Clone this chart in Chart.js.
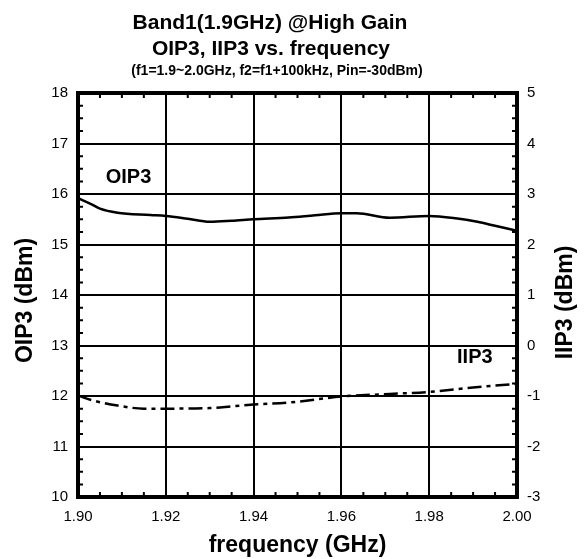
<!DOCTYPE html>
<html><head><meta charset="utf-8">
<script src="https://cdn.jsdelivr.net/npm/chart.js@4/dist/chart.umd.min.js"></script>
<style>html,body{margin:0;padding:0;background:#fff}#wrap{width:585px;height:559px;position:relative}</style>
</head><body><div id="wrap"><canvas id="c"></canvas></div>
<script>
const titleLines = ['Band1(1.9GHz) @High Gain', 'OIP3, IIP3 vs. frequency', '(f1=1.9~2.0GHz, f2=f1+100kHz, Pin=-30dBm)'];
const xTickLabels = ['1.90', '1.92', '1.94', '1.96', '1.98', '2.00'];
const leftTickLabels = ['10', '11', '12', '13', '14', '15', '16', '17', '18'];
const rightTickLabels = ['-3', '-2', '-1', '0', '1', '2', '3', '4', '5'];
const freqOIP3 = [1.900, 1.903, 1.905, 1.909, 1.9165, 1.920, 1.925, 1.930, 1.935, 1.940, 1.948, 1.954, 1.960, 1.9635, 1.971, 1.980, 1.986, 1.991, 1.995, 2.000];
const oip3 =     [15.92, 15.80, 15.71, 15.63, 15.585, 15.565, 15.51, 15.45, 15.47, 15.50, 15.535, 15.58, 15.62, 15.62, 15.53, 15.565, 15.52, 15.45, 15.37, 15.27];
const freqIIP3 = [1.900, 1.903, 1.909, 1.915, 1.922, 1.930, 1.9355, 1.940, 1.948, 1.960, 1.971, 1.980, 1.990, 2.000];
const iip3 =     [-0.99, -1.08, -1.19, -1.25, -1.25, -1.24, -1.20, -1.17, -1.13, -1.01, -0.96, -0.92, -0.83, -0.76];
const seriesNames = ['OIP3', 'IIP3'];
const axisTitles = ['frequency (GHz)', 'OIP3 (dBm)', 'IIP3 (dBm)'];

const FONT = "'Liberation Sans', Arial, sans-serif";

const bgPlugin = {
  id: 'bg',
  beforeDraw(chart) {
    const ctx = chart.ctx;
    ctx.save(); ctx.fillStyle = '#fff'; ctx.fillRect(0, 0, chart.width, chart.height); ctx.restore();
  }
};

const titlePlugin = {
  id: 'titles',
  afterDraw(chart) {
    const ctx = chart.ctx;
    ctx.save();
    ctx.fillStyle = '#000';
    ctx.textAlign = 'center';
    ctx.textBaseline = 'alphabetic';
    ctx.font = 'bold 21px ' + FONT;
    ctx.fillText(titleLines[0], 270, 29);
    ctx.fillText(titleLines[1], 271, 55);
    ctx.font = 'bold 14px ' + FONT;
    ctx.fillText(titleLines[2], 277, 75);
    // vertical axis titles, both reading bottom-to-top
    ctx.font = 'bold 23px ' + FONT;
    ctx.textBaseline = 'middle';
    ctx.save();
    ctx.translate(25.5, 300.5);
    ctx.rotate(-Math.PI / 2);
    ctx.fillText(axisTitles[1], 0, 0);
    ctx.restore();
    ctx.save();
    ctx.translate(565.5, 302.5);
    ctx.rotate(-Math.PI / 2);
    ctx.fillText(axisTitles[2], 0, 0);
    ctx.restore();
    ctx.restore();
  }
};

const framePlugin = {
  id: 'frame',
  afterDatasetsDraw(chart) {
    const {ctx, chartArea: {left, right, top, bottom}, scales: {x, y}} = chart;
    ctx.save();
    ctx.strokeStyle = '#000';
    ctx.lineWidth = 2;
    ctx.beginPath();
    for (let i = 0; i <= 32; i++) {
      if (i % 4 === 0) continue;
      const py = y.getPixelForValue(y.min + i * 0.25);
      ctx.moveTo(left, py); ctx.lineTo(left + 5, py);
      ctx.moveTo(right, py); ctx.lineTo(right - 5, py);
    }
    for (let i = 0; i <= 20; i++) {
      if (i % 4 === 0) continue;
      const px = x.getPixelForValue(x.min + i * 0.005);
      ctx.moveTo(px, bottom); ctx.lineTo(px, bottom - 5);
      ctx.moveTo(px, top); ctx.lineTo(px, top + 5);
    }
    ctx.stroke();
    ctx.lineWidth = 4;
    ctx.strokeRect(left, top, right - left, bottom - top);
    // series labels
    ctx.fillStyle = '#000';
    ctx.font = 'bold 20px ' + FONT;
    ctx.textAlign = 'center';
    ctx.textBaseline = 'middle';
    ctx.fillText(seriesNames[0], x.getPixelForValue(1.9115), y.getPixelForValue(16.32));
    const y2 = chart.scales.y2;
    ctx.fillText(seriesNames[1], x.getPixelForValue(1.9904), y2.getPixelForValue(-0.245));
    ctx.restore();
  }
};

const oipData = freqOIP3.map((f, i) => ({x: f, y: oip3[i]}));
const iipData = freqIIP3.map((f, i) => ({x: f, y: iip3[i]}));

new Chart(document.getElementById('c'), {
  type: 'line',
  data: {
    datasets: [
      {label: seriesNames[0], data: oipData, yAxisID: 'y', borderColor: '#000', borderWidth: 2.5,
       pointRadius: 0, cubicInterpolationMode: 'monotone', fill: false},
      {label: seriesNames[1], data: iipData, yAxisID: 'y2', borderColor: '#000', borderWidth: 2.5,
       borderDash: [14, 5, 4, 5], pointRadius: 0, cubicInterpolationMode: 'monotone', fill: false}
    ]
  },
  options: {
    responsive: true,
    maintainAspectRatio: false,
    animation: false,
    devicePixelRatio: 1,
    layout: {padding: {top: 93, left: 0, right: 0, bottom: 0}},
    plugins: {legend: {display: false}, tooltip: {enabled: false}, title: {display: false}},
    scales: {
      x: {
        type: 'linear', position: 'bottom', min: 1.9, max: 2.0,
        ticks: {stepSize: 0.02, padding: 11, color: '#000', font: {family: FONT, size: 15},
                callback: (v, i) => xTickLabels[i] !== undefined ? xTickLabels[i] : ''},
        grid: {color: '#000', lineWidth: 2, drawTicks: false},
        border: {display: false},
        title: {display: true, text: axisTitles[0], color: '#000', font: {family: FONT, size: 23, weight: 'bold'}, padding: {top: 0, bottom: 0}},
        afterFit: s => { s.height = 62; }
      },
      y: {
        type: 'linear', position: 'left', min: 10, max: 18,
        ticks: {stepSize: 1, padding: 10, color: '#000', font: {family: FONT, size: 15},
                callback: (v, i) => leftTickLabels[i] !== undefined ? leftTickLabels[i] : ''},
        grid: {color: '#000', lineWidth: 2, drawTicks: false},
        border: {display: false},
        title: {display: false},
        afterFit: s => { s.width = 78; }
      },
      y2: {
        type: 'linear', position: 'right', min: -3, max: 5,
        ticks: {stepSize: 1, padding: 10, color: '#000', font: {family: FONT, size: 15},
                callback: (v, i) => rightTickLabels[i] !== undefined ? rightTickLabels[i] : ''},
        grid: {display: false, drawTicks: false},
        border: {display: false},
        title: {display: false},
        afterFit: s => { s.width = 68; }
      }
    }
  },
  plugins: [bgPlugin, framePlugin, titlePlugin]
});
</script>
</body></html>
